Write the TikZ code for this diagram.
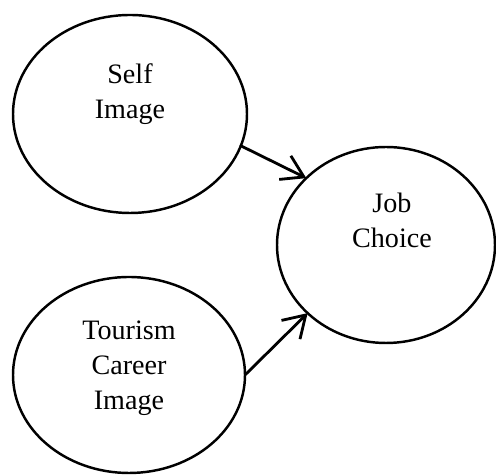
\documentclass[tikz,border=0pt]{standalone}
\usepackage{fontspec}
\setmainfont{Liberation Serif}
\usetikzlibrary{arrows.meta,shapes.geometric}
\begin{document}
\begin{tikzpicture}[>={Straight Barb[length=12pt,width=15pt]},line join=round,line cap=round,
		font=\fontsize{16}{20}\selectfont,
		bubble/.style={ellipse,draw,line width=1.4pt,inner sep=0pt,outer sep=0pt},
		words/.style={align=center,inner sep=0pt}]
		\useasboundingbox (0,0) rectangle (9.92,9.5);
		\node[bubble,minimum width=4.68cm,minimum height=3.96cm] (self) at (2.60,7.22) {};
		\node[bubble,minimum width=4.36cm,minimum height=3.92cm] (job) at (7.72,4.60) {};
		\node[bubble,minimum width=4.64cm,minimum height=3.92cm] (tour) at (2.58,2.00) {};
		\node[words] (selftext) at ([yshift=0.40cm]self.center) {Self\\Image};
		\node[words] (jobtext) at ([xshift=0.12cm,yshift=0.50cm]job.center) {Job\\Choice};
		\node[words] (tourtext) at ([yshift=0.14cm]tour.center) {Tourism\\Career\\Image};
		\draw[->,line width=1.6pt] (self.-16)--(job.140);
		\draw[->,line width=1.6pt] (tour.east)--(job.221);
		\end{tikzpicture}
\end{document}
